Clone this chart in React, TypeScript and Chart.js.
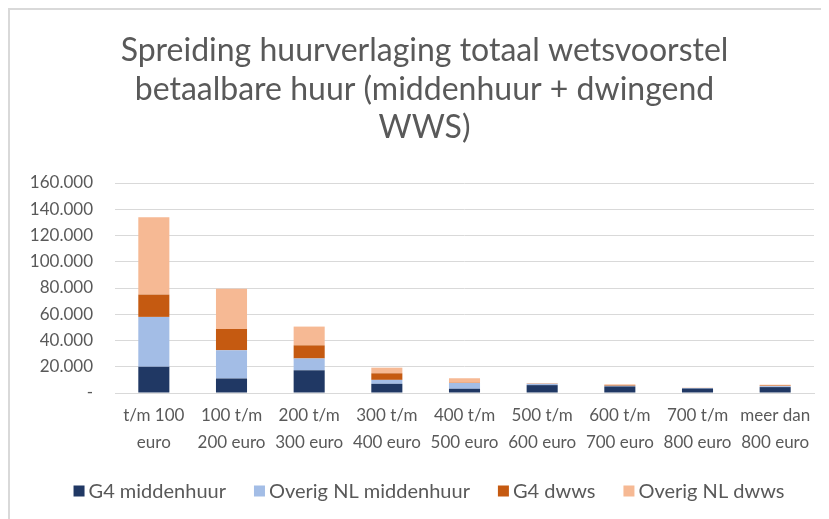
import React, { useEffect, useRef } from "react";
import { Chart, registerables } from "chart.js";

Chart.register(...registerables);

const categories: string[][] = [
  ["t/m 100", "euro"],
  ["100 t/m", "200 euro"],
  ["200 t/m", "300 euro"],
  ["300 t/m", "400 euro"],
  ["400 t/m", "500 euro"],
  ["500 t/m", "600 euro"],
  ["600 t/m", "700 euro"],
  ["700 t/m", "800 euro"],
  ["meer dan", "800 euro"],
];

const g4Middenhuur = [20000, 11000, 17300, 7000, 3300, 6000, 5000, 3500, 4500];
const overigMiddenhuur = [38000, 21500, 9000, 3000, 4300, 1000, 500, 300, 700];
const g4Dwws = [17000, 16300, 10000, 5000, 300, 200, 500, 100, 500];
const overigDwws = [59000, 30600, 14300, 4300, 3300, 200, 600, 100, 600];

const seriesNames = ["G4 middenhuur", "Overig NL middenhuur", "G4 dwws", "Overig NL dwws"];
const seriesColors = ["#203864", "#a3bde6", "#c55a11", "#f6b994"];

const titleLines = [
  "Spreiding huurverlaging totaal wetsvoorstel",
  "betaalbare huur (middenhuur + dwingend",
  "WWS)",
];

const FONT = "Lato, 'Open Sans', sans-serif";
const TEXT = "#595959";

const frame = {
  id: "frame",
  beforeDraw(chart: any) {
    const ctx = chart.ctx;
    ctx.save();
    ctx.fillStyle = "#ffffff";
    ctx.fillRect(0, 0, chart.width, chart.height);
    ctx.fillStyle = "#d9d9d9";
    ctx.fillRect(0, 0, chart.width, 2);
    ctx.fillRect(0, 0, 2, chart.height);
    ctx.restore();
  },
  afterDraw(chart: any) {
    const ctx = chart.ctx;
    ctx.save();
    // title
    ctx.fillStyle = TEXT;
    ctx.textAlign = "center";
    ctx.textBaseline = "middle";
    ctx.font = `normal 32px ${FONT}`;
    titleLines.forEach((line, i) => {
      ctx.fillText(line, 416.5, 43 + i * 38.5);
    });
    // legend
    ctx.font = `normal 20px ${FONT}`;
    ctx.textAlign = "left";
    const box = 11;
    const gap = 4;
    const spacing = 28;
    const widths = seriesNames.map((n) => ctx.measureText(n).width);
    const total =
      widths.reduce((a, w) => a + box + gap + w, 0) + spacing * (seriesNames.length - 1);
    let x = 421 - total / 2;
    const y = 483;
    seriesNames.forEach((n, i) => {
      ctx.fillStyle = seriesColors[i];
      ctx.fillRect(x, y - box / 2, box, box);
      ctx.fillStyle = TEXT;
      ctx.fillText(n, x + box + gap, y + 1);
      x += box + gap + widths[i] + spacing;
    });
    ctx.restore();
  },
};

export default function App() {
  const ref = useRef<HTMLCanvasElement | null>(null);
  useEffect(() => {
    if (!ref.current) return;
    const values = [g4Middenhuur, overigMiddenhuur, g4Dwws, overigDwws];
    const chart = new Chart(ref.current, {
      type: "bar",
      data: {
        labels: categories,
        datasets: seriesNames.map((name, i) => ({
          label: name,
          data: values[i],
          backgroundColor: seriesColors[i],
          borderWidth: 0,
          barPercentage: 0.4,
          categoryPercentage: 1,
        })),
      },
      options: {
        animation: false,
        responsive: false,
        layout: { padding: { left: 0, right: 15, top: 175, bottom: 46 } },
        plugins: {
          title: { display: false },
          legend: { display: false },
          tooltip: { enabled: false },
        },
        scales: {
          x: {
            stacked: true,
            grid: { display: false, drawTicks: false },
            border: { display: true, color: "#d9d9d9" },
            ticks: {
              color: TEXT,
              font: { family: FONT, size: 17, lineHeight: 1.58 },
              padding: 9,
              maxRotation: 0,
              autoSkip: false,
            },
            afterFit(scale: any) {
              scale.height = 80;
            },
          },
          y: {
            stacked: true,
            min: 0,
            max: 160000,
            grid: { color: "#d9d9d9", drawTicks: false },
            border: { display: false },
            ticks: {
              stepSize: 20000,
              color: TEXT,
              font: { family: FONT, size: 17 },
              padding: 22,
              callback: (v: any) =>
                Number(v) === 0 ? "-" : Number(v).toLocaleString("de-DE"),
            },
            afterFit(scale: any) {
              scale.width = 107;
            },
          },
        },
      },
      plugins: [frame],
    });
    return () => chart.destroy();
  }, []);
  return (
    <div style={{ width: 821, height: 511 }}>
      <canvas ref={ref} width={821} height={511} style={{ display: "block" }} />
    </div>
  );
}
